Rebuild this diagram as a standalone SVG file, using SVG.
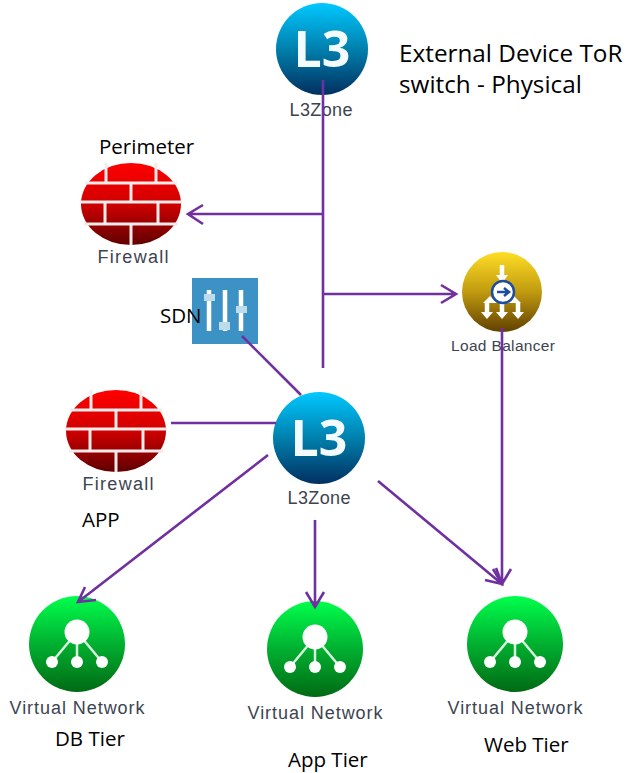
<svg xmlns="http://www.w3.org/2000/svg" xmlns:xlink="http://www.w3.org/1999/xlink" width="630" height="773" viewBox="0 0 630 773">
<style>
.cap{font-family:"Open Sans","Noto Sans",sans-serif;fill:#000}
.c20{font-size:20.500px}
.c24{font-size:24.300px}
.ico{font-family:"Liberation Sans",Arial,sans-serif;font-size:18px;fill:#3c4450;text-anchor:middle}
.l3{font-family:"Open Sans","Liberation Sans",sans-serif;font-weight:700;font-size:50px;fill:#f4fbff;text-anchor:middle}
.ln{fill:none;stroke:#7030a0;stroke-width:2.600}
.br{stroke:#f4ecec;stroke-width:3;fill:none}
.w{fill:#fff;stroke:none}
.wl{stroke:#fff;fill:none}
</style>
<defs>
<linearGradient id="gb" x1="0" y1="0" x2="0" y2="1"><stop offset="0" stop-color="#00c8ff"/><stop offset="0.5" stop-color="#0080ad"/><stop offset="1" stop-color="#003060"/></linearGradient>
<linearGradient id="gr" x1="0" y1="0" x2="0" y2="1"><stop offset="0" stop-color="#ff0000"/><stop offset="0.5" stop-color="#d00000"/><stop offset="1" stop-color="#600000"/></linearGradient>
<linearGradient id="gy" x1="0" y1="0" x2="0" y2="1"><stop offset="0" stop-color="#ffde25"/><stop offset="0.5" stop-color="#c09a10"/><stop offset="1" stop-color="#604000"/></linearGradient>
<linearGradient id="gg" x1="0" y1="0" x2="0" y2="1"><stop offset="0" stop-color="#00ff4c"/><stop offset="0.5" stop-color="#00b030"/><stop offset="1" stop-color="#006a14"/></linearGradient>
<symbol id="s-l3" overflow="visible" width="1" height="1">
<circle r="46" fill="url(#gb)"/>
<text class="l3" y="18">L3</text>
</symbol>
<symbol id="s-fw" overflow="visible" width="1" height="1">
<ellipse rx="50" ry="41" fill="url(#gr)"/>
<path class="br" d="M-46-21H46M-51-2H51M-47 20H47M-25-41V-21M25-41V-21M0-21V-2M-26-2V20M27-2V20M0 20V41"/>
</symbol>
<symbol id="s-vn" overflow="visible" width="1" height="1">
<circle r="48" fill="url(#gg)"/>
<path stroke="#d8f4dc" fill="none" stroke-width="2.500" d="M0-12L-25 18M0-12V18M0-12L25 18"/>
<circle cy="-12" r="12.500" class="w"/>
<circle cx="-25" cy="18" r="6" class="w"/><circle cy="18" r="6" class="w"/><circle cx="25" cy="18" r="6" class="w"/>
</symbol>
</defs>
<g id="node-l3-top">
<use xlink:href="#s-l3" href="#s-l3" x="322" y="49"/>
<text class="ico" x="321" y="116" textLength="63">L3Zone</text>
</g>
<g id="note-external">
<text class="cap c24" x="399" y="62">External Device ToR</text>
<text class="cap c24" x="399" y="93">switch - Physical</text>
</g>
<g id="node-firewall-perimeter">
<use xlink:href="#s-fw" href="#s-fw" x="131" y="204"/>
<text class="ico" x="133" y="263" textLength="71">Firewall</text>
<text class="cap c20" x="99" y="154">Perimeter</text>
</g>
<g id="node-sdn">
<rect x="192" y="278" width="66" height="66" fill="#3c92c4"/>
<path d="M209 290V331M225 290V331M241 290V331" stroke="#fff" stroke-width="4.500" fill="none"/>
<rect x="204" y="294" width="11" height="7" fill="#bcdcec"/>
<rect x="219" y="322" width="11" height="8" fill="#bcdcec"/>
<rect x="236" y="306" width="11" height="7" fill="#bcdcec"/>
<text class="cap c20" x="160" y="323">SDN</text>
</g>
<g id="node-load-balancer">
<circle cx="502" cy="292" r="40" fill="url(#gy)"/>
<path d="M490 296L483 303H497ZM514 296L507 303H521Z" class="w"/>
<path d="M502 265V277M487 303V314M502 303V314M518 303V314" class="wl" stroke-width="4.500"/>
<path d="M496 275H508L502 283ZM481 312H493L487 319ZM496 312H508L502 319ZM512 312H524L518 319Z" class="w"/>
<circle cx="503" cy="292" r="11" fill="#fff" stroke="#1c4ea0" stroke-width="2.500"/>
<path d="M497 292H508M504 288L509 292L504 296" stroke="#1c4ea0" stroke-width="2.500" fill="none"/>
<text class="ico" x="503" y="351" style="font-size:15.500px" textLength="104">Load Balancer</text>
</g>
<g id="node-l3-mid">
<use xlink:href="#s-l3" href="#s-l3" x="319" y="438"/>
<text class="ico" x="319" y="504" textLength="63">L3Zone</text>
</g>
<g id="node-firewall-app">
<use xlink:href="#s-fw" href="#s-fw" x="116" y="431"/>
<text class="ico" x="118" y="490" textLength="71">Firewall</text>
<text class="cap c20" x="82" y="527">APP</text>
</g>
<g id="node-vn-db">
<use xlink:href="#s-vn" href="#s-vn" x="77" y="644"/>
<text class="ico" x="77" y="714" textLength="135">Virtual Network</text>
<text class="cap c20" x="55" y="746">DB Tier</text>
</g>
<g id="node-vn-app">
<use xlink:href="#s-vn" href="#s-vn" x="315" y="649"/>
<text class="ico" x="315" y="719" textLength="135">Virtual Network</text>
<text class="cap c20" x="288" y="767">App Tier</text>
</g>
<g id="node-vn-web">
<use xlink:href="#s-vn" href="#s-vn" x="515" y="644"/>
<text class="ico" x="515" y="714" textLength="135">Virtual Network</text>
<text class="cap c20" x="484" y="752">Web Tier</text>
</g>
<g id="connectors">
<path class="ln" d="M323 80V368"/>
<path class="ln" d="M323 214H188M203 205L188 214L203 224"/>
<path class="ln" d="M323 294H456M441 285L456 294L441 303"/>
<path class="ln" d="M242 336L301 395"/>
<path class="ln" d="M171 423H276"/>
<path class="ln" d="M268 455L78 602M85 587L78 602L96 600"/>
<path class="ln" d="M315 520V607M306 592L315 607L324 592"/>
<path class="ln" d="M378 481L502 584M485 580L502 584L496 568"/>
<path class="ln" d="M502 328V584M493 569L502 584L511 569"/>
</g>
</svg>
